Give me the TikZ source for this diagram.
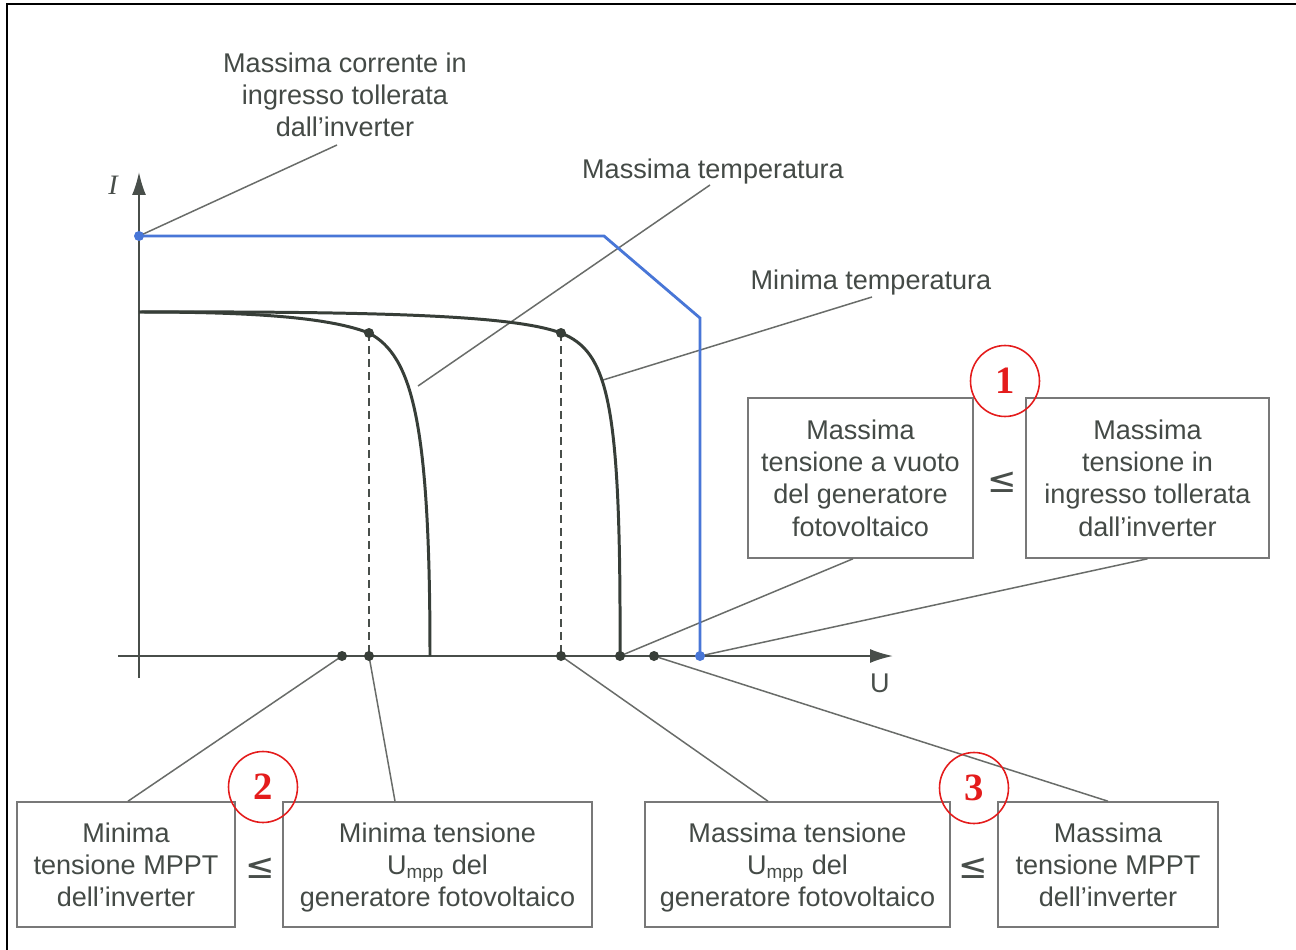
\documentclass[tikz,border=0pt]{standalone}
\usepackage{fontspec}
\setmainfont{Liberation Sans}
\newfontfamily\numfont{Liberation Serif}
\newfontfamily\symfont{DejaVu Sans}
\usetikzlibrary{arrows.meta,shapes.geometric,calc}
\definecolor{txt}{RGB}{68,74,70}
\definecolor{leadgray}{RGB}{105,108,105}
\definecolor{boxgray}{RGB}{120,120,120}
\definecolor{curvecol}{RGB}{55,62,56}
\definecolor{axiscol}{RGB}{72,78,74}
\definecolor{bluecol}{RGB}{72,118,215}
\definecolor{redcol}{RGB}{228,28,28}
\newcommand{\subtxt}[1]{\smash{\textsubscript{#1}}}
\begin{document}
\begin{tikzpicture}[x=0.02cm,y=-0.02cm,
  lbl/.style={text=txt,font=\fontsize{15.4}{18.3}\selectfont,align=center,inner sep=0pt},
  infobox/.style={lbl,draw=boxgray,line width=0.9pt,minimum height=#1,text depth=0pt},
  leader/.style={draw=leadgray,line width=0.85pt},
  axis/.style={draw=axiscol,line width=1.1pt,-{Latex[length=0.46cm,width=0.28cm]}},
  curve/.style={draw=curvecol,line width=1.7pt},
  blueline/.style={draw=bluecol,line width=1.6pt,line join=miter},
  dashline/.style={draw=axiscol,line width=1pt,dash pattern=on 0.16cm off 0.1cm},
  dotc/.style={fill=curvecol},
  leq/.style={text=axiscol,font=\symfont\fontsize{20}{20}\selectfont,inner sep=0pt},
  numc/.style={ellipse,draw=redcol,line width=0.9pt,minimum width=1.38cm,minimum height=1.42cm,inner sep=0pt,text=redcol,font=\numfont\bfseries\fontsize{22}{22}\selectfont}
]
\useasboundingbox (0,0) rectangle (1296,950);
\fill[white] (0,0) rectangle (1296,950);
% frame
\draw[line width=1.6pt] (7,952) -- (7,4) -- (1298,4);

% coordinates
\coordinate (ybot) at (139,678);
\coordinate (ytop) at (139,172);
\coordinate (xleft) at (118,656);
\coordinate (xright) at (893,656);
\coordinate (Isc) at (139,312);
\coordinate (mpp1) at (369,333);
\coordinate (voc1) at (430,656);
\coordinate (mpp2) at (561,333);
\coordinate (voc2) at (620,656);
\coordinate (mpp1x) at (369,656);
\coordinate (mpp2x) at (561,656);
\coordinate (dmin) at (342,656);
\coordinate (dmax) at (654,656);
\coordinate (Imax) at (139,236);
\coordinate (bk1) at (604,236);
\coordinate (bk2) at (700,318);
\coordinate (Vmax) at (700,656);

% labels
\node[lbl] (mc) at (345,95) {Massima corrente in\\ingresso tollerata\\dall’inverter};
\node[lbl] (maxT) at (713,172) {Massima temperatura};
\node[lbl] (minT) at (871,283) {Minima temperatura};
\coordinate (mcE) at (337,145);
\coordinate (maxTE) at (710,185);
\coordinate (minTE) at (872,297);
\coordinate (maxTS) at (418,386);
\coordinate (minTS) at (603,380);

% boxes
\node[infobox=3.2cm,minimum width=4.5cm] (b1l) at (860.5,478) {Massima\\tensione a vuoto\\del generatore\\fotovoltaico};
\node[infobox=3.2cm,minimum width=4.86cm] (b1r) at (1147.5,478) {Massima\\tensione in\\ingresso tollerata\\dall’inverter};
\node[infobox=2.5cm,minimum width=4.36cm] (b2l) at (126,864.5) {Minima\\tensione MPPT\\dell’inverter};
\node[infobox=2.5cm,minimum width=6.18cm] (b2r) at (437.5,864.5) {Minima tensione\\U\subtxt{mpp} del\\generatore fotovoltaico};
\node[infobox=2.5cm,minimum width=6.1cm] (b3l) at (797.5,864.5) {Massima tensione\\U\subtxt{mpp} del\\generatore fotovoltaico};
\node[infobox=2.5cm,minimum width=4.4cm] (b3r) at (1108,864.5) {Massima\\tensione MPPT\\dell’inverter};

\node[leq] (leq1) at (1002,482) {≤};
\node[leq] (leq2) at (260,868) {≤};
\node[leq] (leq3) at (973,868) {≤};

\draw[leader] (Imax) -- (mcE);
\draw[leader] (maxTS) -- (maxTE);
\draw[leader] (minTS) -- (minTE);
\draw[leader] ([xshift=-0.15cm]b1l.south) -- (voc2);
\draw[leader] (b1r.south) -- (Vmax);
\draw[leader] ([xshift=0.04cm]b2l.north) -- (dmin);
\draw[leader] ([xshift=-0.85cm]b2r.north) -- (mpp1x);
\draw[leader] ([xshift=-0.59cm]b3l.north) -- (mpp2x);
\draw[leader] (b3r.north) -- (dmax);

% axes
\draw[axis] (ybot) -- (ytop);
\draw[axis] (xleft) -- (xright);
\node[text=axiscol,font=\numfont\itshape\fontsize{16}{16}\selectfont,inner sep=0pt] (Ilab) at (113,185) {I};
\node[lbl,text=axiscol] (Ulab) at (880,683) {U};

% dashed
\draw[dashline] (mpp1) -- (mpp1x);
\draw[dashline] (mpp2) -- (mpp2x);

% curves
\draw[curve] (Isc) .. controls (260,312) and (330,318) .. (mpp1) .. controls (412,356) and (430,420) .. (voc1);
\draw[curve] (Isc) .. controls (420,311) and (520,318) .. (mpp2) .. controls (608,352) and (621,400) .. (voc2);
\draw[blueline] (Imax) -- (bk1) -- (bk2) -- (Vmax);

% dots
\foreach \p in {mpp1,mpp2,mpp1x,mpp2x,dmin,dmax,voc2}
  \fill[dotc] (\p) circle[radius=0.1cm];
\fill[bluecol] (Imax) circle[radius=0.1cm];
\fill[bluecol] (Vmax) circle[radius=0.1cm];

% circled numbers
\node[numc] (c1) at (1005,381) {1};
\node[numc] (c2) at (263,787) {2};
\node[numc] (c3) at (974,788) {3};
\end{tikzpicture}
\end{document}
